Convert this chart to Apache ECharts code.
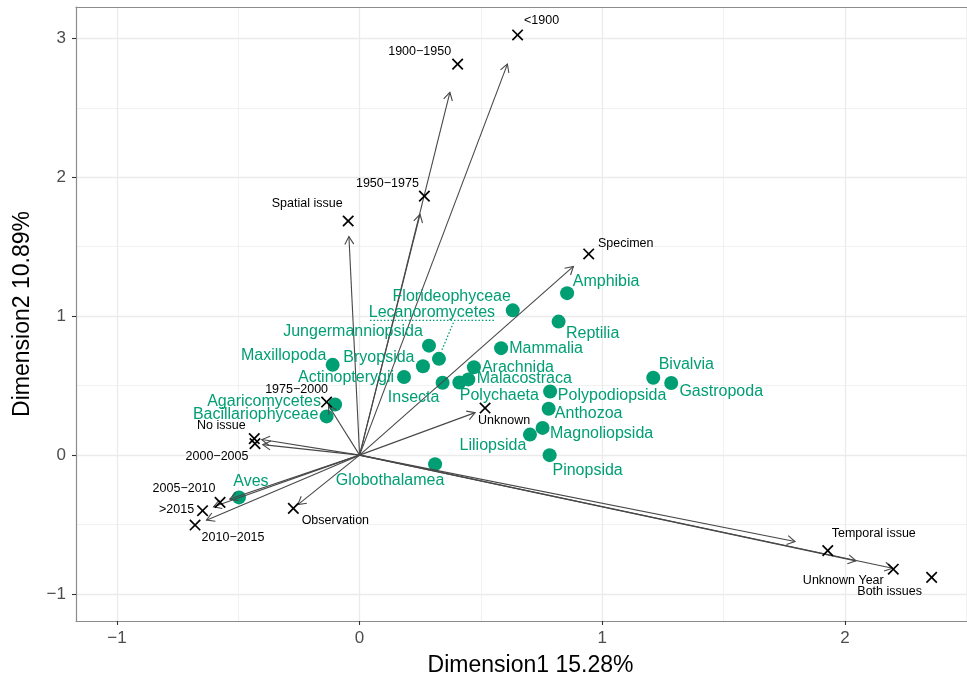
<!DOCTYPE html>
<html>
<head>
<meta charset="utf-8">
<script src="https://cdn.jsdelivr.net/npm/echarts@6/dist/echarts.min.js"></script>
<style>html,body{margin:0;padding:0;background:#fff;overflow:hidden}#c{width:967px;height:682px}</style>
</head>
<body>
<div id="c"></div>
<script>
// ---------- data ----------
const xTicks = [-1, 0, 1, 2];
const yTicks = [-1, 0, 1, 2, 3];
const xMinor = [-0.5, 0.5, 1.5, 2.5];
const yMinor = [-0.5, 0.5, 1.5, 2.5];

const speciesNames = ['Amphibia','Florideophyceae','Reptilia','Mammalia','Arachnida','Malacostraca','Polychaeta','Insecta','Lecanoromycetes','Jungermanniopsida','Bryopsida','Actinopterygii','Maxillopoda','Agaricomycetes','Bacillariophyceae','Aves','Globothalamea','Polypodiopsida','Anthozoa','Magnoliopsida','Liliopsida','Pinopsida','Bivalvia','Gastropoda'];
const speciesX = [0.855,0.631,0.820,0.583,0.471,0.448,0.411,0.342,0.327,0.286,0.261,0.183,-0.111,-0.101,-0.136,-0.497,0.311,0.785,0.779,0.754,0.702,0.783,1.210,1.284];
const speciesY = [1.166,1.042,0.961,0.770,0.633,0.545,0.523,0.521,0.693,0.788,0.640,0.562,0.650,0.365,0.279,-0.304,-0.065,0.458,0.334,0.196,0.148,0.000,0.557,0.519];

const categoryNames = ['<1900','1900\u22121950','1950\u22121975','Spatial issue','Specimen','1975\u22122000','No issue','2000\u22122005','2005\u22122010','>2015','2010\u22122015','Observation','Unknown','Temporal issue','Unknown Year','Both issues'];
const categoryX = [0.651,0.404,0.267,-0.047,0.944,-0.136,-0.434,-0.431,-0.575,-0.647,-0.678,-0.273,0.517,1.929,2.199,2.357];
const categoryY = [3.024,2.814,1.864,1.685,1.448,0.382,0.119,0.083,-0.340,-0.400,-0.503,-0.383,0.339,-0.687,-0.821,-0.880];
const arrowX = [0.609,0.372,0.249,-0.044,0.881,-0.128,-0.403,-0.399,-0.535,-0.602,-0.631,-0.254,0.476,1.794,2.045,2.196];
const arrowY = [2.814,2.611,1.733,1.573,1.358,0.357,0.112,0.076,-0.316,-0.372,-0.468,-0.356,0.306,-0.622,-0.761,-0.814];

// ---------- layout (pixel offsets of repelled labels) ----------
const speciesLabelOffset = {
  Amphibia:[39,-12], Florideophyceae:[-61,-14], Reptilia:[34,12], Mammalia:[45,0], Arachnida:[44,0],
  Malacostraca:[56,-1], Polychaeta:[40,13], Insecta:[-29,15], Lecanoromycetes:[-7,-46],
  Jungermanniopsida:[-76,-14], Bryopsida:[-44,-9], Actinopterygii:[-58,1], Maxillopoda:[-49,-9],
  Agaricomycetes:[-71,-3], Bacillariophyceae:[-71,-2], Aves:[12,-16], Globothalamea:[-45,16],
  Polypodiopsida:[62,4], Anthozoa:[40,5], Magnoliopsida:[59,6], Liliopsida:[-37,11],
  Pinopsida:[38,15], Bivalvia:[33,-13], Gastropoda:[50,9]
};
const speciesLeader = { Lecanoromycetes: { seg:[[3,-9],[15,-37.5]], underline:[-69,56,-38.4] } };
const categoryLabelOffset = {
  '<1900':[24,-14], '1900\u22121950':[-38,-13], '1950\u22121975':[-37,-13], 'Spatial issue':[-41,-17],
  'Specimen':[37,-10], '1975\u22122000':[-30,-13], 'No issue':[-33,-13], '2000\u22122005':[-38,13],
  '2005\u22122010':[-36,-14], '>2015':[-26,-1], '2010\u22122015':[38,13], 'Observation':[42,12],
  'Unknown':[19,13], 'Temporal issue':[46,-17], 'Unknown Year':[-50,11], 'Both issues':[-42,14]
};

const GREEN = '#009E73';
const BORDER = '#8c8c8c';
const FONT = '"Liberation Sans", Arial, Helvetica, sans-serif';
const fmt = v => (v < 0 ? '\u2212' + Math.abs(v) : String(v));
const X_MIN = -1.1685, X_MAX = 2.5027, Y_MIN = -1.1937, Y_MAX = 3.2253;

const chart = echarts.init(document.getElementById('c'), null, {renderer:'canvas'});

const speciesData = speciesNames.map((n,i)=>[speciesX[i], speciesY[i]]);
const catData = categoryNames.map((n,i)=>[categoryX[i], categoryY[i]]);
const arrowData = categoryNames.map((n,i)=>[arrowX[i], arrowY[i]]);

const gridLines = [];
xTicks.forEach(v=>gridLines.push({xAxis:v, lineStyle:{type:'solid', width:1.3, color:'#ebebeb'}}));
yTicks.forEach(v=>gridLines.push({yAxis:v, lineStyle:{type:'solid', width:1.3, color:'#ebebeb'}}));
xMinor.forEach(v=>gridLines.push({xAxis:v, lineStyle:{type:'solid', width:0.7, color:'#ebebeb'}}));
yMinor.forEach(v=>gridLines.push({yAxis:v, lineStyle:{type:'solid', width:0.7, color:'#ebebeb'}}));

const option = {
  animation:false,
  backgroundColor:'#fff',
  grid:{left:76, right:0, top:7, bottom:59, show:false},
  xAxis:[{
    type:'value', min:X_MIN, max:X_MAX, position:'bottom',
    axisLine:{show:true, onZero:false, lineStyle:{color:BORDER, width:1.2}},
    axisTick:{show:true, customValues:xTicks, length:4, lineStyle:{color:'#333', width:1.1}},
    axisLabel:{customValues:xTicks, formatter:fmt, color:'#4d4d4d', fontSize:17, fontFamily:FONT, margin:9},
    splitLine:{show:false},
    name:'Dimension1 15.28%', nameLocation:'middle', nameGap:33,
    nameTextStyle:{fontSize:23, color:'#000', fontFamily:FONT, padding:[0,0,0,18]}
  },{
    type:'value', min:X_MIN, max:X_MAX, position:'top',
    axisLine:{show:true, onZero:false, lineStyle:{color:BORDER, width:1.2}},
    axisTick:{show:false}, axisLabel:{show:false}, splitLine:{show:false}
  }],
  yAxis:{
    type:'value', min:Y_MIN, max:Y_MAX,
    axisLine:{show:true, onZero:false, lineStyle:{color:BORDER, width:1.2}},
    axisTick:{show:true, customValues:yTicks, length:4, lineStyle:{color:'#333', width:1.1}},
    axisLabel:{customValues:yTicks, formatter:fmt, color:'#4d4d4d', fontSize:17, fontFamily:FONT, margin:10},
    splitLine:{show:false},
    name:'Dimension2 10.89%', nameLocation:'middle', nameGap:42, nameRotate:90,
    nameTextStyle:{fontSize:23, color:'#000', fontFamily:FONT}
  },
  series:[
    { // grid lines
      type:'line', data:[], z:0, silent:true,
      markLine:{silent:true, z:0, symbol:['none','none'], label:{show:false}, data:gridLines, animation:false}
    },
    { // species points
      type:'scatter', data:speciesData, symbol:'circle', symbolSize:14, z:2,
      itemStyle:{color:GREEN, opacity:1}, silent:true
    },
    { // arrows
      type:'custom', data:arrowData, z:3, silent:true,
      renderItem:function(params, api){
        const o = api.coord([0,0]);
        const e = api.coord([api.value(0), api.value(1)]);
        const ang = Math.atan2(e[1]-o[1], e[0]-o[0]);
        const L = 9, a = Math.PI/6;
        const p1 = [e[0]-L*Math.cos(ang-a), e[1]-L*Math.sin(ang-a)];
        const p2 = [e[0]-L*Math.cos(ang+a), e[1]-L*Math.sin(ang+a)];
        return {type:'group', children:[
          {type:'line', shape:{x1:o[0],y1:o[1],x2:e[0],y2:e[1]}, style:{stroke:'#484848', lineWidth:1.1}},
          {type:'polyline', shape:{points:[p1,e,p2]}, style:{stroke:'#484848', lineWidth:1.1, fill:null}}
        ]};
      }
    },
    { // category crosses + labels
      type:'custom', data:catData, z:4, silent:true,
      renderItem:function(params, api){
        const c = api.coord([api.value(0), api.value(1)]);
        const name = categoryNames[params.dataIndex];
        const off = categoryLabelOffset[name] || [0,-12];
        const h = 5.2;
        return {type:'group', children:[
          {type:'line', shape:{x1:c[0]-h,y1:c[1]-h,x2:c[0]+h,y2:c[1]+h}, style:{stroke:'#000', lineWidth:1.7}},
          {type:'line', shape:{x1:c[0]-h,y1:c[1]+h,x2:c[0]+h,y2:c[1]-h}, style:{stroke:'#000', lineWidth:1.7}},
          {type:'text', x:c[0]+off[0], y:c[1]+off[1], style:{text:name, fill:'#000', fontSize:12.5, fontFamily:FONT, align:'center', verticalAlign:'middle', textAlign:'center', textVerticalAlign:'middle'}}
        ]};
      }
    },
    { // species labels (+ leader)
      type:'custom', data:speciesData, z:5, silent:true,
      renderItem:function(params, api){
        const c = api.coord([api.value(0), api.value(1)]);
        const name = speciesNames[params.dataIndex];
        const off = speciesLabelOffset[name] || [0,-14];
        const children = [
          {type:'text', x:c[0]+off[0], y:c[1]+off[1], style:{text:name, fill:GREEN, fontSize:16, fontFamily:FONT, align:'center', verticalAlign:'middle', textAlign:'center', textVerticalAlign:'middle'}}
        ];
        const ld = speciesLeader[name];
        if (ld) {
          children.push({type:'line', shape:{x1:c[0]+ld.seg[0][0], y1:c[1]+ld.seg[0][1], x2:c[0]+ld.seg[1][0], y2:c[1]+ld.seg[1][1]}, style:{stroke:GREEN, lineWidth:1.3, lineDash:[1.5,2]}});
          children.push({type:'line', shape:{x1:c[0]+ld.underline[0], y1:c[1]+ld.underline[2], x2:c[0]+ld.underline[1], y2:c[1]+ld.underline[2]}, style:{stroke:GREEN, lineWidth:1.3, lineDash:[1.5,2]}});
        }
        return {type:'group', children:children};
      }
    }
  ]
};
chart.setOption(option);
</script>
</body>
</html>
